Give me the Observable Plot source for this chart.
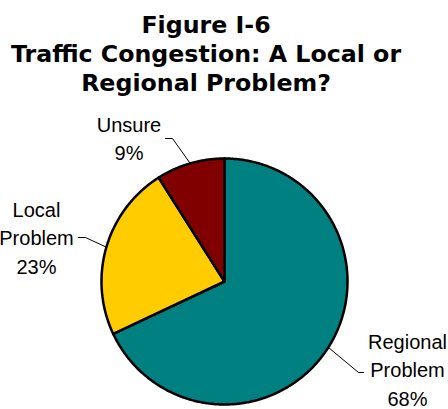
<!DOCTYPE html>
<html><head><meta charset="utf-8">
<script src="https://cdn.jsdelivr.net/npm/d3@7"></script>
<script src="https://cdn.jsdelivr.net/npm/@observablehq/plot@0.6"></script>
<style>
html,body{margin:0;padding:0;background:#fff;}
#title{width:412px;padding-top:11px;text-align:center;font-family:"DejaVu Sans";font-weight:bold;font-size:23.7px;line-height:29px;color:#000;}
#chart svg{display:block;}
</style></head><body>
<div id="title">Figure I-6<br>Traffic Congestion: A Local or<br>Regional Problem?</div>
<div id="chart"></div>
<script>
const categories = ["Regional Problem", "Local Problem", "Unsure"];
const values = [68, 23, 9];
const colors = ["#008080", "#FFCC00", "#800000"];
const labelLines = [["Regional", "Problem"], ["Local", "Problem"], ["Unsure"]];

// layout (pixels relative to pie centre)
const R = 123;
const labelLayout = {
  "Regional Problem": {tx: 183, ty: 67, elbow: [134, 91], end: [139, 91]},
  "Local Problem": {tx: -188, ty: -65, elbow: [-139, -44], end: [-146, -44]},
  "Unsure": {tx: -95.5, ty: -150, elbow: [-52, -143], end: [-59, -143]}
};
const lineStep = 28.5;

const total = d3.sum(values);
let cum = 0;
const slices = categories.map((c, i) => {
  const a0 = cum / total * 2 * Math.PI; cum += values[i];
  const a1 = cum / total * 2 * Math.PI;
  return {c, i, a0, a1, mid: (a0 + a1) / 2};
});
const polyPts = [];
slices.forEach(s => {
  polyPts.push({c: s.c, x: 0, y: 0});
  const n = Math.max(2, Math.ceil((s.a1 - s.a0) / (Math.PI / 360)));
  for (let k = 0; k <= n; k++) {
    const a = s.a0 + (s.a1 - s.a0) * k / n;
    polyPts.push({c: s.c, x: R * Math.sin(a), y: -R * Math.cos(a)});
  }
});
const leaderPts = [];
slices.forEach(s => {
  const L = labelLayout[s.c];
  leaderPts.push({c: s.c, x: R * Math.sin(s.mid), y: -R * Math.cos(s.mid)});
  leaderPts.push({c: s.c, x: L.elbow[0], y: L.elbow[1]});
  leaderPts.push({c: s.c, x: L.end[0], y: L.end[1]});
});
const textRows = [];
slices.forEach(s => {
  const L = labelLayout[s.c];
  const lines = [...labelLines[s.i], `${values[s.i]}%`];
  lines.forEach((t, k) => textRows.push({t, x: L.tx, y: L.ty + k * lineStep}));
});

const chart = Plot.plot({
  width: 448, height: 311, margin: 0,
  x: {domain: [-224, 224], range: [0, 448], axis: null},
  y: {domain: [-183, 128], range: [0, 311], axis: null},
  color: {domain: categories, range: colors},
  style: {background: "#fff"},
  marks: [
    Plot.line(leaderPts, {x: "x", y: "y", z: "c", stroke: "#000", strokeWidth: 1}),
    Plot.line(polyPts, {x: "x", y: "y", z: "c", fill: "c", stroke: "#000", strokeWidth: 2.5, strokeLinejoin: "round", curve: "linear-closed"}),
    Plot.text(textRows, {x: "x", y: "y", text: "t", lineAnchor: "bottom", textAnchor: "middle", fontSize: 20, fontFamily: "Liberation Sans", fill: "#000"})
  ]
});
document.getElementById("chart").appendChild(chart);
</script></body></html>
